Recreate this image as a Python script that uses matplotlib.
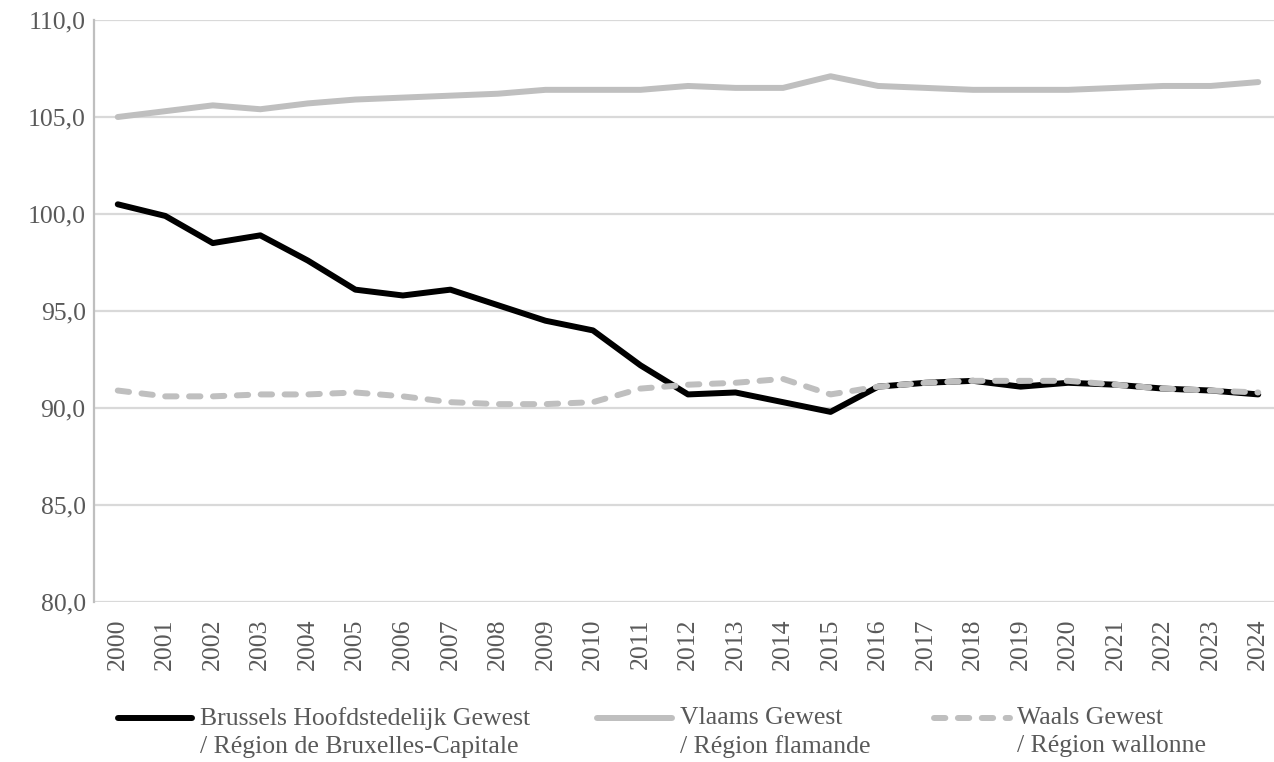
import matplotlib
matplotlib.use("Agg")
import matplotlib.pyplot as plt
from matplotlib.lines import Line2D

years = [str(y) for y in range(2000, 2025)]
brussels = [100.5, 99.9, 98.5, 98.9, 97.6, 96.1, 95.8, 96.1, 95.3, 94.5, 94.0, 92.2, 90.7,
            90.8, 90.3, 89.8, 91.1, 91.3, 91.4, 91.1, 91.3, 91.2, 91.0, 90.9, 90.7]
vlaams = [105.0, 105.3, 105.6, 105.4, 105.7, 105.9, 106.0, 106.1, 106.2, 106.4, 106.4, 106.4, 106.6,
          106.5, 106.5, 107.1, 106.6, 106.5, 106.4, 106.4, 106.4, 106.5, 106.6, 106.6, 106.8]
waals = [90.9, 90.6, 90.6, 90.7, 90.7, 90.8, 90.6, 90.3, 90.2, 90.2, 90.3, 91.0, 91.2,
         91.3, 91.5, 90.7, 91.1, 91.3, 91.4, 91.4, 91.4, 91.2, 91.0, 90.9, 90.8]
labels = ["Brussels Hoofdstedelijk Gewest\n/ Région de Bruxelles-Capitale",
          "Vlaams Gewest\n/ Région flamande",
          "Waals Gewest\n/ Région wallonne"]
yticks = [80, 85, 90, 95, 100, 105, 110]

plt.rcParams['font.family'] = ['Liberation Serif', 'DejaVu Serif']
TXT = '#595959'
GRID = '#D9D9D9'
LIGHT = '#BFBFBF'
FS = 18.5

fig = plt.figure(figsize=(12.74, 7.62), dpi=100)
ax = fig.add_axes([94/1274, 1 - 602/762, (1282 - 94)/1274, (602 - 20)/762])

x = list(range(len(years)))
lw = 4.3
DASH = (1.9, 2.1)
ax.plot(x, vlaams, color=LIGHT, lw=lw, solid_capstyle='round', solid_joinstyle='round', zorder=3)
ax.plot(x, brussels, color='black', lw=lw, solid_capstyle='round', solid_joinstyle='round', zorder=3)
ax.plot(x, waals, color=LIGHT, lw=lw, dashes=DASH, dash_capstyle='round', zorder=5)

ax.set_xlim(-0.5, len(years) - 0.5)
ax.set_ylim(80, 110)
ax.set_yticks(yticks)
ax.set_yticklabels([f"{v:.1f}".replace('.', ',') for v in yticks])
ax.set_xticks(x)
ax.set_xticklabels(years, rotation=90)
ax.tick_params(axis='both', length=0, colors=TXT, labelsize=FS)
ax.tick_params(axis='y', pad=6)
ax.tick_params(axis='x', pad=12)
ax.grid(axis='y', color=GRID, lw=1.6, zorder=0)
for s in ['top', 'right', 'bottom']:
    ax.spines[s].set_visible(False)
ax.spines['left'].set_color(LIGHT)
ax.spines['left'].set_linewidth(1.6)

# legend
legend_items = [
    (118, 192, 200, dict(color='black', lw=lw, solid_capstyle='round')),
    (597, 672, 680, dict(color=LIGHT, lw=lw, solid_capstyle='round')),
    (934, 1010, 1017, dict(color=LIGHT, lw=lw, dashes=DASH, dash_capstyle='round')),
]
for (x0, x1, tx, style), lab in zip(legend_items, labels):
    yy = 1 - 718/762
    fig.add_artist(Line2D([x0/1274, x1/1274], [yy, yy], transform=fig.transFigure, **style))
    fig.text(tx/1274, 1 - 707/762, lab, fontsize=FS, color=TXT, va='top', ha='left',
             linespacing=1.35)

fig.savefig('out.png', dpi=100)
